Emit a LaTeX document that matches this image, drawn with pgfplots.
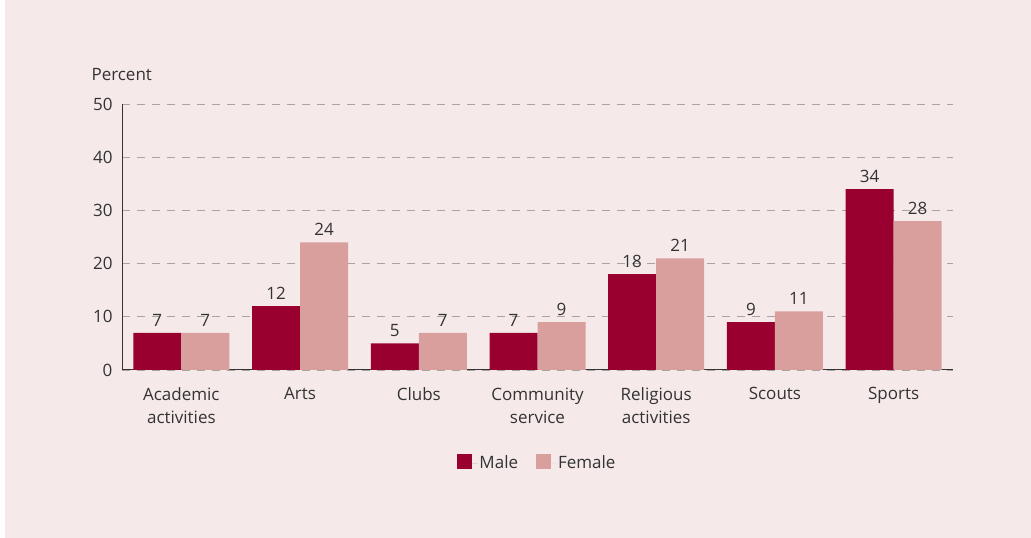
\documentclass[border=0pt]{standalone}
\usepackage{pgfplots}
\pgfplotsset{compat=1.18}
\usepackage{fontspec}
\setmainfont{Open Sans}
\definecolor{bg}{HTML}{F5EAE9}
\definecolor{male}{HTML}{99002F}
\definecolor{female}{HTML}{D99F9D}
\definecolor{txt}{HTML}{333333}
\definecolor{gridc}{HTML}{A8A4A4}
\begin{document}
\begin{tikzpicture}[x=1pt,y=1pt]
\fill[white] (0,0) rectangle (1031,538);
\fill[bg] (5,0) rectangle (1031,538);
\begin{axis}[
  at={(122pt,168pt)}, anchor=south west,
  scale only axis, width=831pt, height=266pt,
  ymin=0, ymax=50, xmin=-0.5, xmax=6.5,
  ybar=0pt, bar width=48pt,
  axis x line*=bottom, axis y line*=left,
  axis line style={txt, line width=1pt, -},
  ytick={0,10,20,30,40,50},
  major tick length=0pt,
  ymajorgrids, grid style={gridc, line width=0.9pt, dash pattern=on 8pt off 7pt},
  xtick=data,
  xticklabels={{Academic\\activities},Arts,Clubs,{Community\\service},{Religious\\activities},Scouts,Sports},
  xticklabel style={align=center, text=txt, font=\fontsize{17}{23}\selectfont, yshift=-14pt},
  yticklabel style={text=txt, font=\fontsize{17}{19}\selectfont, xshift=-6pt},
  /pgf/number format/assume math mode=true,
  nodes near coords,
  nodes near coords style={text=txt, font=\fontsize{17}{19}\selectfont, yshift=3pt},
  ylabel={Percent},
  ylabel style={rotate=-90, at={(axis description cs:0,1)}, anchor=west, xshift=-34pt, yshift=29pt, text=txt, font=\fontsize{17}{19}\selectfont},
  legend style={at={(0.5,-0.35)}, anchor=center, draw=none, fill=none, legend columns=2,
    font=\fontsize{17}{19}\selectfont, text=txt,
    /tikz/every even column/.append style={column sep=16pt}},
  legend image code/.code={\path (0pt,0pt) -- (20pt,0pt); \fill[#1] (0pt,-6pt) rectangle (15pt,9pt);},
  clip=false,
]
\addplot[fill=male, draw=none] coordinates {(0,7) (1,12) (2,5) (3,7) (4,18) (5,9) (6,34)};
\addplot[fill=female, draw=none] coordinates {(0,7) (1,24) (2,7) (3,9) (4,21) (5,11) (6,28)};
\legend{Male,Female}
\end{axis}
\end{tikzpicture}
\end{document}
